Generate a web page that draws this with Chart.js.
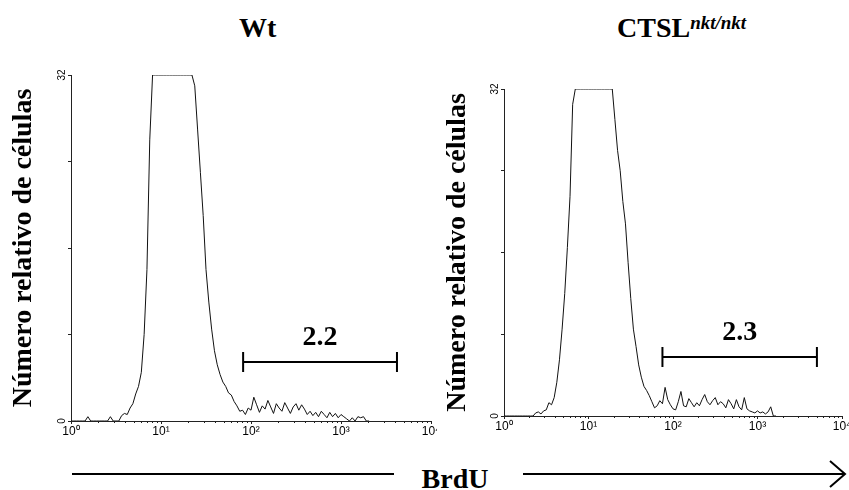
<!DOCTYPE html>
<html>
<head>
<meta charset="utf-8">
<script src="https://cdn.jsdelivr.net/npm/chart.js@4.4.0/dist/chart.umd.min.js"></script>
<style>
  body { margin: 0; width: 849px; height: 490px; background: #fff; position: relative; overflow: hidden; font-family: "Liberation Serif", "Times New Roman", serif; }
  canvas { position: absolute; }
  .head { position: absolute; font-weight: bold; font-size: 28px; line-height: 28px; color: #000; white-space: nowrap; }
  .head i { font-size: 19px; position: relative; top: -8px; }
</style>
</head>
<body>
<div class="head" style="left:239px; top:14px;">Wt</div>
<div class="head" style="left:617px; top:14px;">CTSL<i>nkt/nkt</i></div>

<canvas id="wtChart" width="437" height="380" style="left:0; top:60px;"></canvas>
<canvas id="nktChart" width="415" height="370" style="left:434px; top:70px;"></canvas>

<svg width="849" height="40" style="position:absolute; left:0; top:455px;">
  <line x1="72" y1="19" x2="394" y2="19" stroke="#000" stroke-width="2"/>
  <line x1="523" y1="19" x2="845" y2="19" stroke="#000" stroke-width="2"/>
  <polyline points="830,6 845,19 830,32" fill="none" stroke="#000" stroke-width="2"/>
</svg>
<div class="head" style="left:405px; width:100px; text-align:center; top:465px;">BrdU</div>

<script>
// 4 décadas logarítmicas, 32 canales por década
const perDecade = 32;
const channels = 128;
const decadeLabels = ["10⁰", "10¹", "10²", "10³", "10⁴"];
const yMax = 32;
const yTitle = "Número relativo de células";

// cuentas por canal (desde el canal 0)
const wtCounts = [
  0, 0, 0, 0, 0, 0, 0.4, 0, 0, 0, 0, 0, 0, 0, 0.4, 0, 0, 0, 0.5, 0.7,
  0.6, 1.2, 1.6, 2.5, 3.2, 4.5, 8, 14, 26, 32, 32, 32, 32, 32, 32, 32, 32, 32, 32, 32,
  32, 32, 32, 32, 31, 27, 23, 19, 14, 11, 8.5, 6.5, 5.2, 4.3, 3.6, 3.2, 2.6, 2.4, 1.8, 1.4,
  0.9, 1.0, 0.6, 1.2, 1.0, 2.2, 1.5, 0.8, 1.4, 1.1, 1.9, 1.3, 0.7, 1.6, 1.2, 0.9, 1.7, 1.2, 0.7, 1.3,
  1.6, 1.0, 1.5, 1.1, 0.6, 0.9, 0.5, 0.8, 0.4, 0.9, 0.6, 0.3, 0.8, 0.4, 0.7, 0.3, 0.6, 0.4, 0.2, 0,
  0.3, 0, 0.4, 0.3, 0.4, 0, 0
];
const nktCounts = [
  0, 0, 0, 0, 0, 0, 0, 0, 0, 0, 0, 0, 0.3, 0.4, 0.2, 0.5, 0.6, 1.3, 1.1, 1.8,
  3.3, 5.5, 8.5, 12, 16.5, 21.5, 30.5, 32, 32, 32, 32, 32, 32, 32, 32, 32, 32, 32, 32, 32,
  32, 32, 29, 26, 24, 21, 18.8, 15, 11.5, 8.5, 6.8, 5, 3.8, 2.9, 2.5, 2.0, 1.4, 0.8, 1.0, 1.5,
  1.2, 2.8, 1.6, 1.1, 0.7, 0.6, 1.4, 2.4, 1.0, 0.9, 1.7, 1.3, 0.9, 1.3, 1.0, 1.6, 2.1, 1.4, 1.1, 1.5,
  1.8, 1.1, 1.4, 1.2, 0.8, 1.6, 1.2, 0.7, 1.6, 0.9, 0.6, 1.8, 0.7, 0.5, 0.4, 0.3, 0.5, 0.3, 0.4, 0.2,
  0.4, 0.9, 0, 0
];

// marcador BrdU+ (canales) y porcentaje
const wtGate = { from: 61.2, to: 115.9, level: 5.45, label: "2.2" };
const nktGate = { from: 60.0, to: 118.5, level: 5.8, label: "2.3" };

// ticks menores del eje log, etiquetas 0/32 giradas y el marcador
const flowDecor = {
  id: "flowDecor",
  afterDraw(chart, args, opts) {
    const { ctx } = chart;
    const x = chart.scales.x;
    const y = chart.scales.y;
    ctx.save();
    ctx.strokeStyle = "#222";
    ctx.lineWidth = 1;
    ctx.beginPath();
    for (let d = 0; d < decadeLabels.length - 1; d++) {
      for (let k = 2; k <= 9; k++) {
        const px = Math.round(x.getPixelForValue((d + Math.log10(k)) * perDecade)) + 0.5;
        ctx.moveTo(px, y.bottom);
        ctx.lineTo(px, y.bottom + 2);
      }
    }
    ctx.stroke();

    ctx.fillStyle = "#000";
    ctx.font = '10px "Liberation Sans", Arial, sans-serif';
    ctx.textAlign = "center";
    ctx.textBaseline = "middle";
    [0, yMax].forEach((v) => {
      ctx.save();
      ctx.translate(y.right - 9, y.getPixelForValue(v));
      ctx.rotate(-Math.PI / 2);
      ctx.fillText(String(v), 0, 0);
      ctx.restore();
    });

    const x1 = x.getPixelForValue(opts.from);
    const x2 = x.getPixelForValue(opts.to);
    const gy = Math.round(y.getPixelForValue(opts.level));
    ctx.lineWidth = 2;
    ctx.strokeStyle = "#000";
    ctx.beginPath();
    ctx.moveTo(x1, gy);
    ctx.lineTo(x2, gy);
    ctx.moveTo(x1, gy - 10);
    ctx.lineTo(x1, gy + 10);
    ctx.moveTo(x2, gy - 10);
    ctx.lineTo(x2, gy + 10);
    ctx.stroke();
    ctx.font = 'bold 28px "Liberation Serif", "Times New Roman", serif';
    ctx.textBaseline = "alphabetic";
    ctx.fillText(opts.label, (x1 + x2) / 2, gy - 17);
    ctx.restore();
  },
};

function histogramChart(canvasId, counts, o) {
  return new Chart(document.getElementById(canvasId), {
    type: "line",
    data: {
      datasets: [
        {
          data: counts.map((v, i) => ({ x: i, y: v })),
          borderColor: "#111",
          borderWidth: 1,
          pointRadius: 0,
          tension: 0,
          fill: false,
        },
      ],
    },
    options: {
      responsive: false,
      animation: false,
      events: [],
      layout: { padding: { top: o.padTop, right: o.padRight, left: 0, bottom: 0 } },
      plugins: {
        legend: { display: false },
        tooltip: { enabled: false },
        flowDecor: o.gate,
      },
      scales: {
        x: {
          type: "linear",
          min: 0,
          max: channels,
          border: { color: "#222" },
          grid: { drawOnChartArea: false, tickLength: 3, color: "#222" },
          ticks: {
            stepSize: perDecade,
            autoSkip: false,
            maxRotation: 0,
            padding: 0,
            color: "#000",
            font: { family: '"Liberation Sans", Arial, sans-serif', size: 12 },
            callback: (v) => decadeLabels[v / perDecade],
          },
          afterFit: (s) => {
            s.height = o.xHeight;
            s.paddingLeft = 0;
            s.paddingRight = 0;
          },
        },
        y: {
          min: 0,
          max: yMax,
          border: { color: "#222" },
          grid: { drawOnChartArea: false, tickLength: 3, color: "#222" },
          ticks: { display: false, stepSize: 8 },
          title: {
            display: true,
            text: yTitle,
            color: "#000",
            font: { family: '"Liberation Serif", "Times New Roman", serif', size: 28, weight: "bold" },
            padding: { top: 7, bottom: 0 },
          },
          afterFit: (s) => {
            s.width = o.yWidth;
            s.paddingTop = 0;
            s.paddingBottom = 0;
          },
        },
      },
    },
    plugins: [flowDecor],
  });
}

histogramChart("wtChart", wtCounts, { padTop: 15, padRight: 6, xHeight: 19, yWidth: 71, gate: wtGate });
histogramChart("nktChart", nktCounts, { padTop: 19, padRight: 7, xHeight: 24, yWidth: 70, gate: nktGate });
</script>
</body>
</html>
